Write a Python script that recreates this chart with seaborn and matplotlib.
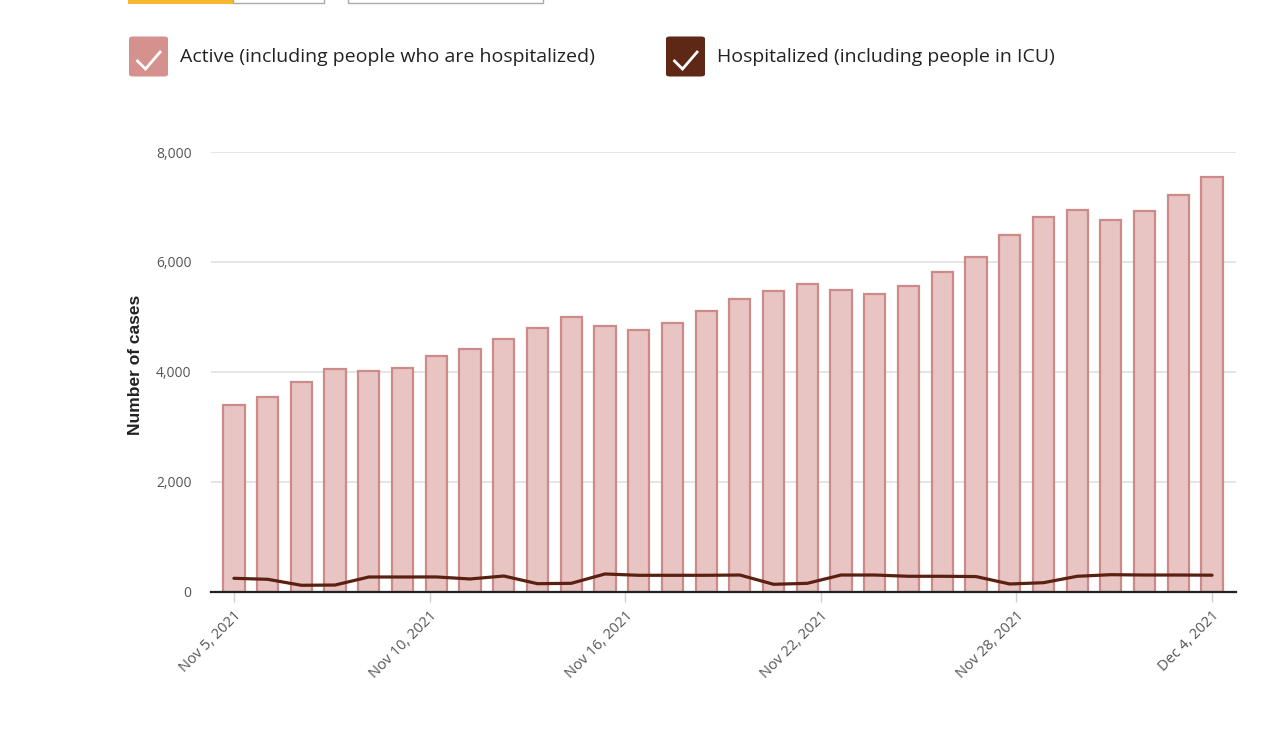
import matplotlib
matplotlib.use("Agg")
import matplotlib.pyplot as plt
import seaborn as sns
import pandas as pd
import numpy as np
from matplotlib.patches import FancyBboxPatch, Rectangle
from matplotlib.lines import Line2D

dates = pd.date_range("2021-11-05", "2021-12-04", freq="D")
active = [3390, 3535, 3810, 4045, 4015, 4065, 4280, 4410, 4590, 4790,
          4995, 4830, 4755, 4885, 5100, 5320, 5465, 5595, 5485, 5410,
          5560, 5815, 6085, 6490, 6815, 6945, 6760, 6925, 7215, 7545]
hospitalized = [240, 222, 113, 118, 264, 264, 265, 228, 282, 142,
                149, 319, 295, 295, 295, 300, 131, 149, 300, 300,
                277, 277, 272, 137, 160, 277, 306, 300, 300, 297]
tick_labels = ["Nov 5, 2021", "Nov 10, 2021", "Nov 16, 2021",
               "Nov 22, 2021", "Nov 28, 2021", "Dec 4, 2021"]
legend_labels = ["Active (including people who are hospitalized)",
                 "Hospitalized (including people in ICU)"]

sns.set_theme(style="white")
plt.rcParams['font.family'] = ['Open Sans', 'DejaVu Sans']

W, H = 1280, 737
fig = plt.figure(figsize=(W / 100, H / 100), dpi=100)
ax = fig.add_axes([211 / W, 1 - 591.5 / H, (1236 - 211) / W, (591.5 - 152) / H])

df = pd.DataFrame({"date": [d.strftime("%Y-%m-%d") for d in dates],
                   "idx": range(len(dates)),
                   "active": active,
                   "hosp": hospitalized})

sns.barplot(data=df, x="date", y="active", ax=ax, color="#e8c4c3",
            edgecolor="#cc8b88", linewidth=1.6, width=0.63, saturation=1,
            zorder=2)
sns.lineplot(data=df, x="idx", y="hosp", ax=ax, color="#5a2113",
             linewidth=2.3, zorder=3)

ax.set_xlim(-0.68, 29.71)
ax.set_ylim(0, 8000)
ax.set_yticks([0, 2000, 4000, 6000, 8000])
ax.set_yticklabels(["0", "2,000", "4,000", "6,000", "8,000"],
                   color="#555555", fontsize=10)
ax.tick_params(axis="y", length=0, pad=14)
# evenly spaced time-axis ticks from first to last day
tick_pos = np.linspace(0, len(dates) - 1, len(tick_labels))
ax.set_xticks(tick_pos)
ax.set_xticklabels(tick_labels, rotation=45, ha="right",
                   rotation_mode="anchor", color="#555555", fontsize=10.5)
ax.tick_params(axis="x", length=7, color="#d0d0d0", width=1, pad=5,
               direction="out", bottom=True)
for y in [2000, 4000, 6000, 8000]:
    ax.axhline(y, color="#e0e0e0", linewidth=1.2, zorder=0)
for s in ["top", "right", "left"]:
    ax.spines[s].set_visible(False)
ax.spines["bottom"].set_color("#222222")
ax.spines["bottom"].set_linewidth(1.6)
ax.spines["bottom"].set_zorder(4)
ax.set_xlabel("")
ax.set_ylabel("Number of cases", fontsize=12.5, fontweight="bold",
              family=["Liberation Sans", "DejaVu Sans"], color="#222222")
ax.yaxis.set_label_coords(-0.066, 0.515)


def px(x, y):
    return x / W, 1 - y / H


# top partial UI buttons
fig.add_artist(Rectangle(px(128, 3.5), 105 / W, 6 / H, transform=fig.transFigure,
                         facecolor="#f5b82e", edgecolor="none"))
fig.add_artist(Rectangle(px(233, 2.5), 91 / W, 6 / H, transform=fig.transFigure,
                         facecolor="white", edgecolor="#aaaaaa", linewidth=1))
fig.add_artist(Rectangle(px(348, 2.5), 195 / W, 6 / H, transform=fig.transFigure,
                         facecolor="white", edgecolor="#aaaaaa", linewidth=1))

# legend checkboxes
boxes = [(129, "#d4918d"), (666, "#5e2716")]
for (x0, col), lab in zip(boxes, legend_labels):
    fig.add_artist(FancyBboxPatch(px(x0, 76.5), 39 / W, 40 / H,
                                  boxstyle="round,pad=0,rounding_size=0.003",
                                  transform=fig.transFigure,
                                  facecolor=col, edgecolor="none"))
    xs = [x0 + 7.5, x0 + 16.5, x0 + 32]
    ys = [60, 69, 51]
    fig.add_artist(Line2D([x / W for x in xs], [1 - y / H for y in ys],
                          transform=fig.transFigure, color="white",
                          linewidth=2.0, solid_capstyle="butt",
                          solid_joinstyle="miter"))
    fig.text((x0 + 51) / W, 1 - 57 / H, lab, fontsize=14, color="#222222",
             va="center", ha="left")

fig.savefig("out.png", dpi=100, facecolor="white")
